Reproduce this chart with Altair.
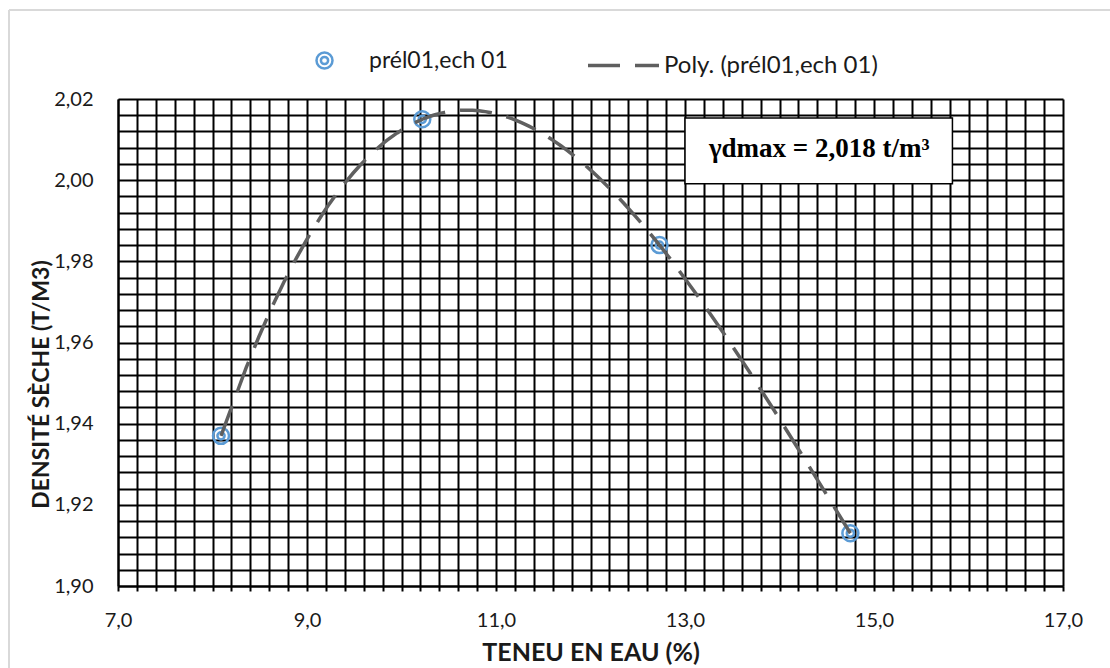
import altair as alt
import pandas as pd

# ---- data ----
teneur = [8.09, 10.22, 12.73, 14.75]          # TENEU EN EAU (%)
densite = [1.937, 2.015, 1.984, 1.913]        # DENSITÉ SÈCHE (T/M3)

serie_pts = "prél01,ech 01"
serie_fit = "Poly. (prél01,ech 01)"

x_major = [7.0, 9.0, 11.0, 13.0, 15.0, 17.0]
y_major = [1.90, 1.92, 1.94, 1.96, 1.98, 2.00, 2.02]
x_minor_step = 0.2
y_minor_step = 0.004

annot_text = ["γdmax = 2,018 t/m³"]
box_x = [13.0]
box_x2 = [15.83]
box_y = [2.0153]
box_y2 = [1.9991]
text_x = [14.42]
text_y = [2.0077]

# ---- derived tables ----
df = pd.DataFrame({"w": teneur, "d": densite, "serie": [serie_pts] * len(teneur)})
box_df = pd.DataFrame({"x": box_x, "x2": box_x2, "y": box_y, "y2": box_y2})
txt_df = pd.DataFrame({"x": text_x, "y": text_y, "t": annot_text})

x_vals = [round(x_major[0] + i * x_minor_step, 4)
          for i in range(int(round((x_major[-1] - x_major[0]) / x_minor_step)) + 1)]
y_vals = [round(y_major[0] + i * y_minor_step, 4)
          for i in range(int(round((y_major[-1] - y_major[0]) / y_minor_step)) + 1)]

FONT = "Lato"
TXT = "#1a1a1a"
BLUE = "#5B9BD5"
GREY = "#5f5f5f"
DOUBLE_CIRCLE = ("M -1 0 A 1 1 0 1 0 1 0 A 1 1 0 1 0 -1 0 Z "
                 "M -0.45 0 A 0.45 0.45 0 1 0 0.45 0 A 0.45 0.45 0 1 0 -0.45 0 Z")

x_scale = alt.Scale(domain=[x_major[0], x_major[-1]], nice=False, zero=False)
y_scale = alt.Scale(domain=[y_major[0], y_major[-1]], nice=False, zero=False)

x_axis = alt.Axis(
    values=x_vals, tickCount=len(x_vals),
    grid=True, gridColor="#000000", gridWidth=2, gridOpacity=1,
    domainColor="#000000", domainWidth=2, tickColor="#000000", tickWidth=2, tickSize=5,
    labelExpr="(round(datum.value*10) % 20 == 10) ? replace(format(datum.value, '.1f'), '.', ',') : ''",
    labelFont=FONT, labelFontSize=20, labelColor=TXT, labelPadding=19,
    labelFlush=False, labelOverlap=False,
    title="TENEU EN EAU (%)", titleFont=FONT, titleFontSize=25, titleFontWeight="bold",
    titleColor=TXT, titlePadding=10,
)
y_axis = alt.Axis(
    values=y_vals, tickCount=len(y_vals),
    grid=True, gridColor="#000000", gridWidth=2, gridOpacity=1,
    domainColor="#000000", domainWidth=2, ticks=False,
    labelExpr="(round(datum.value*1000) % 20 == 0) ? replace(format(datum.value, '.2f'), '.', ',') : ''",
    labelFont=FONT, labelFontSize=20, labelColor=TXT, labelPadding=25,
    labelFlush=False, labelOverlap=False,
    title="DENSITÉ SÈCHE (T/M3)", titleFont=FONT, titleFontSize=23, titleFontWeight="bold",
    titleColor=TXT, titleX=-77, titleY=285, titleBaseline="middle", titleAlign="center",
)

base = alt.Chart(df)

points = base.mark_point(filled=False, size=256, strokeWidth=2.5, color=BLUE, opacity=1).encode(
    x=alt.X("w:Q", scale=x_scale, axis=x_axis),
    y=alt.Y("d:Q", scale=y_scale, axis=y_axis),
    shape=alt.Shape(
        "serie:N",
        scale=alt.Scale(domain=[serie_pts], range=[DOUBLE_CIRCLE]),
        legend=alt.Legend(
            title=None, orient="none", legendX=195, legendY=-50, padding=0,
            symbolSize=256, symbolStrokeWidth=2.5, symbolStrokeColor=BLUE,
            symbolFillColor="transparent", symbolOpacity=1,
            labelFont=FONT, labelFontSize=23, labelColor=TXT, labelOffset=33,
            labelLimit=500,
        ),
    ),
)

trend = base.transform_regression("w", "d", method="poly", order=3).transform_calculate(
    serie="'" + serie_fit + "'"
).mark_line(color=GREY, strokeWidth=3.5, strokeCap="butt").encode(
    x=alt.X("w:Q", scale=x_scale),
    y=alt.Y("d:Q", scale=y_scale),
    strokeDash=alt.StrokeDash(
        "serie:N",
        scale=alt.Scale(domain=[serie_fit], range=[[32, 15]]),
        legend=alt.Legend(
            title=None, orient="none", legendX=468, legendY=-71, padding=0,
            symbolType="stroke", symbolSize=5041, symbolStrokeWidth=3.5,
            symbolStrokeColor=GREY, symbolOpacity=1,
            labelFont=FONT, labelFontSize=24, labelColor=TXT, labelOffset=3,
            labelLimit=500,
        ),
    ),
)

box = alt.Chart(box_df).mark_rect(fill="white", stroke="#000000", strokeWidth=1.5).encode(
    x=alt.X("x:Q", scale=x_scale), x2="x2:Q",
    y=alt.Y("y:Q", scale=y_scale), y2="y2:Q",
)
label = alt.Chart(txt_df).mark_text(
    font="Liberation Serif", fontSize=27, fontWeight="bold", color="#000000",
    align="center", baseline="middle",
).encode(
    x=alt.X("x:Q", scale=x_scale), y=alt.Y("y:Q", scale=y_scale), text="t:N",
)

# light outer frame of the chart area (decoration)
frame_left = alt.Chart(pd.DataFrame({"k": [0]})).mark_rule(color="#D9D9D9", strokeWidth=2).encode(
    x=alt.value(-109), y=alt.value(-89), y2=alt.value(600)
)
frame_top = alt.Chart(pd.DataFrame({"k": [0]})).mark_rule(color="#D9D9D9", strokeWidth=2).encode(
    x=alt.value(-109), x2=alt.value(1000), y=alt.value(-89)
)

chart = alt.layer(box, points, trend, label, frame_left, frame_top).properties(
    width=945, height=487,
    autosize=alt.AutoSizeParams(type="none"),
    padding={"left": 118, "top": 99, "right": 47, "bottom": 82},
    background="white",
).configure_view(stroke=None)

chart.save("out.html", embed_options={"renderer": "svg", "actions": False})
